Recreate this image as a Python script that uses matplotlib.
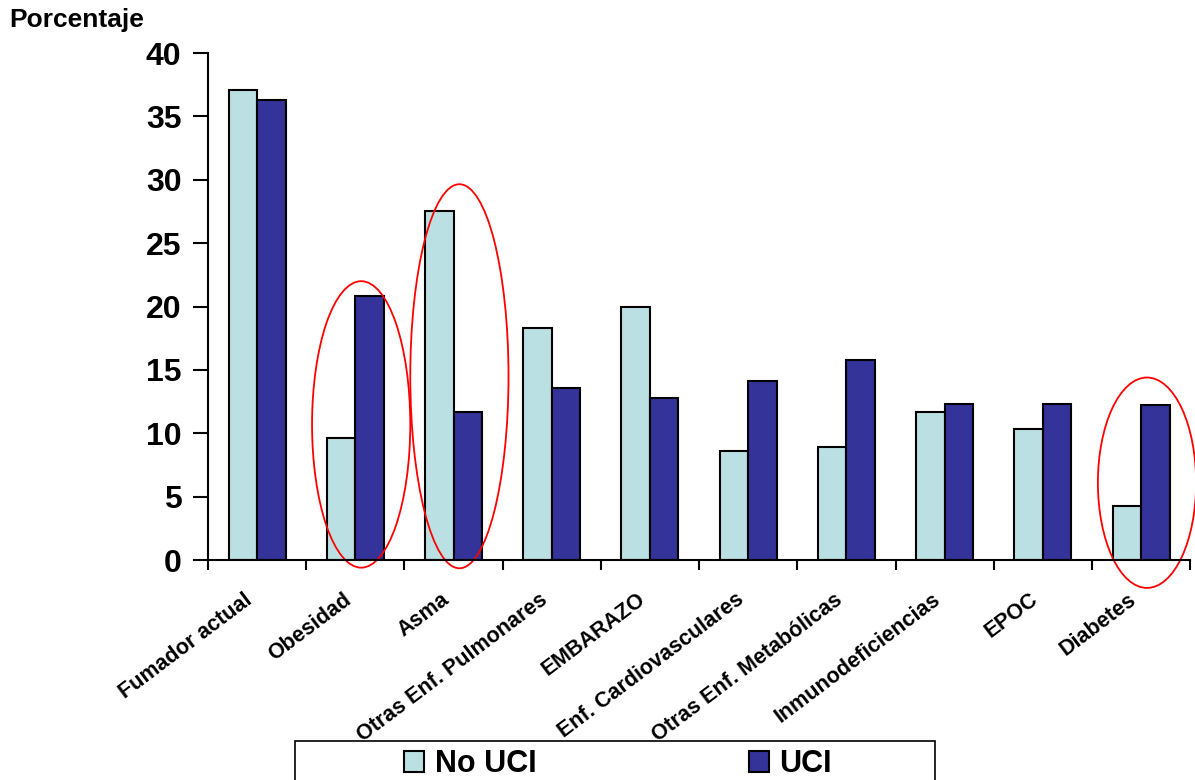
import numpy as np
import matplotlib
matplotlib.use("Agg")
import matplotlib.pyplot as plt
import matplotlib.transforms as mtransforms
from matplotlib.patches import Ellipse, Rectangle

plt.rcParams['font.family'] = ['Liberation Sans', 'DejaVu Sans']
plt.rcParams['font.weight'] = 'bold'

# Data
categories = ["Fumador actual", "Obesidad", "Asma", "Otras Enf. Pulmonares", "EMBARAZO",
              "Enf. Cardiovasculares", "Otras Enf. Metabólicas", "Inmunodeficiencias",
              "EPOC", "Diabetes"]
no_uci = [37.1, 9.6, 27.5, 18.3, 20.0, 8.6, 8.9, 11.7, 10.3, 4.3]
uci = [36.3, 20.8, 11.7, 13.6, 12.8, 14.1, 15.8, 12.3, 12.3, 12.2]
yticks = [0, 5, 10, 15, 20, 25, 30, 35, 40]

# highlighted groups: (category, y centre, height)
highlights = [("Obesidad", 10.7, 22.6), ("Asma", 14.5, 30.3), ("Diabetes", 6.1, 16.6)]

fig = plt.figure(figsize=(11.95, 7.8), dpi=100)
ax = fig.add_axes([0.174, 0.282, 0.822, 0.650])

x = np.arange(len(categories))
w = 0.29
ax.bar(x - w / 2, no_uci, w, color="#BBE0E3", edgecolor="black", linewidth=1.5, label="No UCI")
ax.bar(x + w / 2, uci, w, color="#333399", edgecolor="black", linewidth=1.5, label="UCI")

for name, yc, h in highlights:
    i = categories.index(name)
    ax.add_patch(Ellipse((i + 0.06, yc), 1.0, h, fill=False, edgecolor="red",
                         linewidth=1.3, clip_on=False))

ax.set_xlim(-0.5, len(categories) - 0.5)
ax.set_ylim(0, 40)
ax.set_yticks(yticks)
ax.tick_params(axis="y", direction="out", length=11, width=1.5, pad=8, labelsize=23)
ax.set_xticks(np.arange(len(categories) + 1) - 0.5)
ax.set_xticklabels([])
ax.tick_params(axis="x", which="major", direction="out", length=7, width=1.5)
ax.set_xticks(x, minor=True)
labels = ax.set_xticklabels(categories, minor=True, rotation=37, ha="right", va="top",
                            rotation_mode="anchor", fontsize=15.5)
ax.tick_params(axis="x", which="minor", length=0, pad=21)
shift = mtransforms.ScaledTranslation(-13 / 100, 0, fig.dpi_scale_trans)
for lab in labels:
    lab.set_transform(lab.get_transform() + shift)
for s in ["top", "right"]:
    ax.spines[s].set_visible(False)
for s in ["left", "bottom"]:
    ax.spines[s].set_linewidth(1.5)

fig.text(0.008, 0.99, "Porcentaje", fontsize=19, fontweight="bold", va="top")

# legend frame and entries
fig.patches.append(Rectangle((295 / 1195, -0.02), 640 / 1195, 0.07, transform=fig.transFigure,
                             fill=False, edgecolor="black", linewidth=1.2))
fig.legend(loc="center", bbox_to_anchor=(618 / 1195, 0.02), ncol=2, frameon=False,
           handlelength=0.65, handleheight=0.65, handletextpad=0.35, columnspacing=6.95,
           prop={"weight": "bold", "size": 22})

fig.savefig("out.png", dpi=100)
